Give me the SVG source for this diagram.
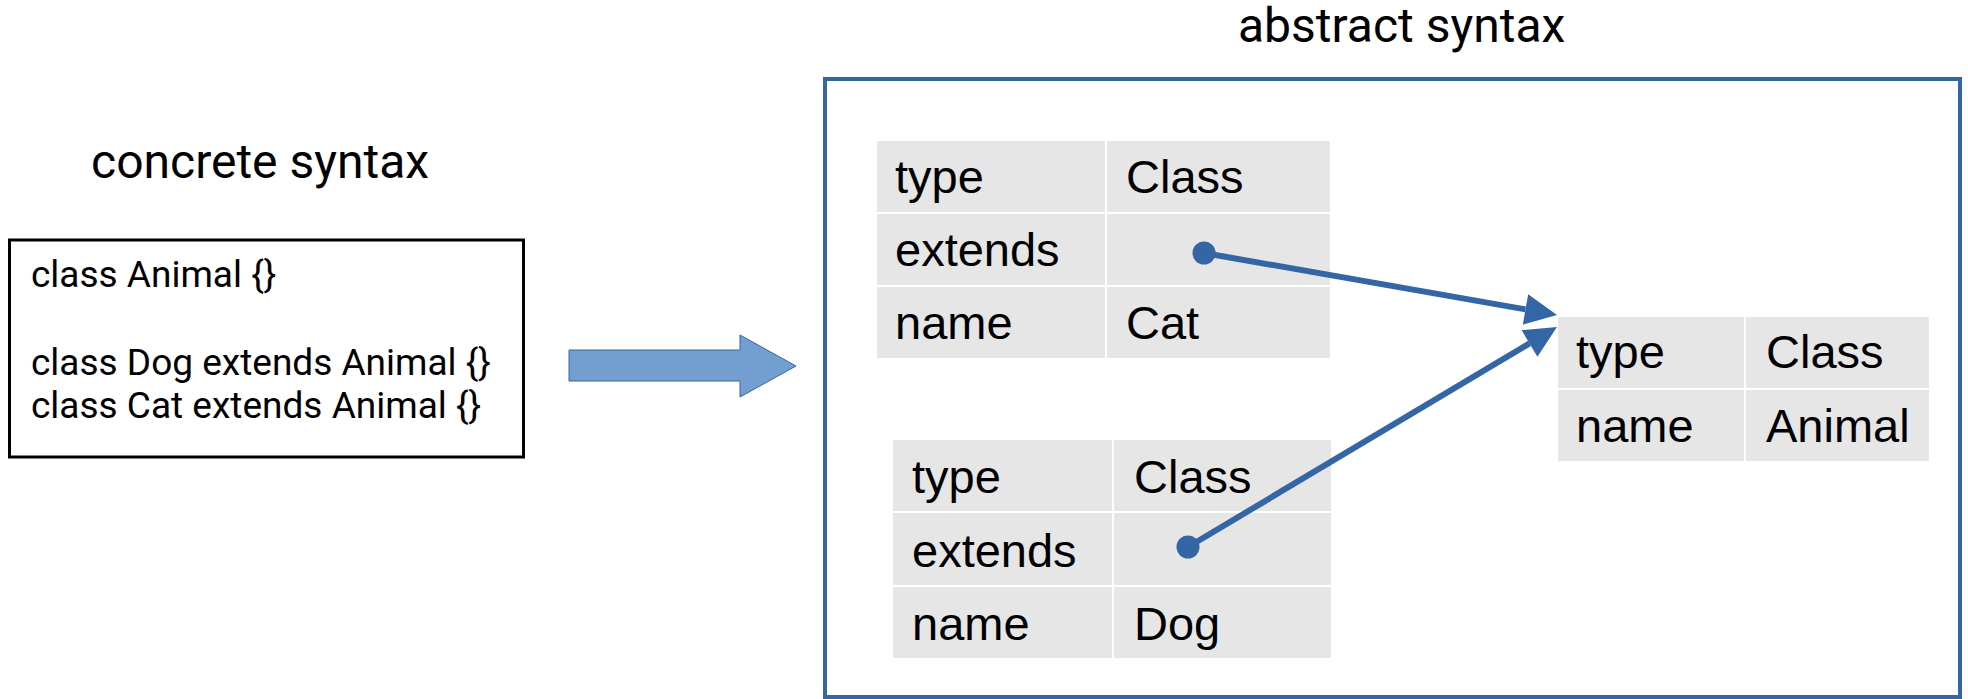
<svg xmlns="http://www.w3.org/2000/svg" width="1968" height="699" viewBox="0 0 1968 699">
  <style>
    .title { font-family: Roboto, "Liberation Sans", sans-serif; font-size: 48px; fill: #000; }
    .code { font-family: Roboto, "Liberation Sans", sans-serif; font-size: 37px; fill: #000; }
    .cell { fill: #e6e6e6; stroke: #ffffff; stroke-width: 2; }
    .cellText { font-family: "Liberation Sans", Arial, sans-serif; font-size: 47px; fill: #000; }
    .ref { stroke: #3465a4; stroke-width: 6; fill: none; }
    .dot { fill: #3465a4; }
  </style>
  <defs>
    <marker id="arrowHead" markerUnits="userSpaceOnUse" markerWidth="34" markerHeight="32" refX="0" refY="15.5" orient="auto" overflow="visible">
      <path d="M0,0 L32,15.5 L0,31 Z" fill="#3465a4"/>
    </marker>
  </defs>

  <rect width="1968" height="699" fill="#ffffff"/>

  <!-- left side: source text -->
  <g id="concrete">
    <text class="title" x="91" y="178">concrete syntax</text>
    <rect x="9.5" y="240" width="514" height="217" fill="#ffffff" stroke="#000" stroke-width="3"/>
    <text class="code" x="31" y="287">class Animal {}</text>
    <text class="code" x="31" y="375">class Dog extends Animal {}</text>
    <text class="code" x="31" y="418">class Cat extends Animal {}</text>
  </g>

  <!-- transformation arrow -->
  <g id="transform">
    <path d="M569,350 L740,350 L740,335 L796,366 L740,397 L740,381 L569,381 Z" fill="#729fcf" stroke="#3465a4" stroke-width="1"/>
  </g>

  <!-- right side: tree of objects -->
  <g id="abstract">
    <text class="title" x="1238" y="42">abstract syntax</text>
    <rect x="825" y="79" width="1135" height="618" fill="none" stroke="#3465a4" stroke-width="4"/>
  </g>

  <g id="nodeCat">
    <rect class="cell" x="876" y="140" width="230" height="73"/>
    <rect class="cell" x="1106" y="140" width="225" height="73"/>
    <rect class="cell" x="876" y="213" width="230" height="73"/>
    <rect class="cell" x="1106" y="213" width="225" height="73"/>
    <rect class="cell" x="876" y="286" width="230" height="73"/>
    <rect class="cell" x="1106" y="286" width="225" height="73"/>
    <text class="cellText" x="895" y="193">type</text>
    <text class="cellText" x="1126" y="193">Class</text>
    <text class="cellText" x="895" y="266">extends</text>
    <text class="cellText" x="895" y="339">name</text>
    <text class="cellText" x="1126" y="339">Cat</text>
  </g>

  <g id="nodeDog">
    <rect class="cell" x="892" y="439" width="221" height="73"/>
    <rect class="cell" x="1113" y="439" width="219" height="73"/>
    <rect class="cell" x="892" y="512" width="221" height="74"/>
    <rect class="cell" x="1113" y="512" width="219" height="74"/>
    <rect class="cell" x="892" y="586" width="221" height="73"/>
    <rect class="cell" x="1113" y="586" width="219" height="73"/>
    <text class="cellText" x="912" y="493">type</text>
    <text class="cellText" x="1134" y="493">Class</text>
    <text class="cellText" x="912" y="567">extends</text>
    <text class="cellText" x="912" y="640">name</text>
    <text class="cellText" x="1134" y="640">Dog</text>
  </g>

  <g id="nodeAnimal">
    <rect class="cell" x="1557" y="316" width="188" height="73"/>
    <rect class="cell" x="1745" y="316" width="185" height="73"/>
    <rect class="cell" x="1557" y="389" width="188" height="73"/>
    <rect class="cell" x="1745" y="389" width="185" height="73"/>
    <text class="cellText" x="1576" y="368">type</text>
    <text class="cellText" x="1766" y="368">Class</text>
    <text class="cellText" x="1576" y="442">name</text>
    <text class="cellText" x="1766" y="442">Animal</text>
  </g>

  <!-- extends references -->
  <g id="connectors">
    <circle class="dot" cx="1204" cy="253" r="11.5"/>
    <line class="ref" x1="1204" y1="253" x2="1525.5" y2="309.4" marker-end="url(#arrowHead)"/>
    <circle class="dot" cx="1188" cy="547" r="11.5"/>
    <line class="ref" x1="1188" y1="547" x2="1529.5" y2="343.4" marker-end="url(#arrowHead)"/>
  </g>
</svg>
